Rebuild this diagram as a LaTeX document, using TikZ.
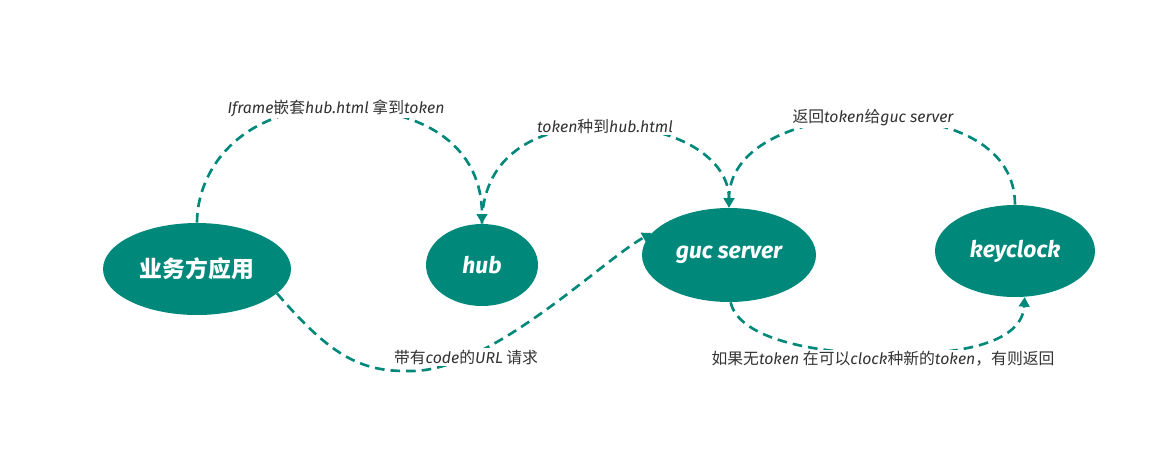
\documentclass[tikz,border=0pt]{standalone}
\usepackage{fontspec}
\setmainfont{Noto Sans CJK SC}
\newfontfamily\latinfont{Fira Sans}
\usetikzlibrary{shapes.geometric,arrows.meta}
\definecolor{gucgreen}{RGB}{0,137,123}
\newcommand{\en}[1]{{\latinfont\itshape #1}}

\begin{document}
\begin{tikzpicture}[x=0.02cm, y=-0.02cm,
  app/.style={ellipse, fill=gucgreen, draw=none, text=white, inner sep=0pt,
    font=\fontsize{13}{15}\selectfont\bfseries},
  flow/.style={draw=gucgreen, line width=1.5pt, dash pattern=on 5.5pt off 3.4pt,
    -{Triangle[length=5.5pt,width=6pt,fill=gucgreen]}},
  note/.style={fill=white, inner sep=1pt, text=black!80, font=\fontsize{9}{11}\selectfont}]
\useasboundingbox (0,0) rectangle (1171,468);
\node[app, minimum width=3.76cm, minimum height=1.84cm] (biz) at (197,269) {业务方应用};
\node[app, minimum width=2.24cm, minimum height=1.64cm] (hub) at (482,265) {\en{hub}};
\node[app, minimum width=3.48cm, minimum height=1.88cm] (guc) at (729,255) {\en{guc server}};
\node[app, minimum width=3.2cm, minimum height=1.84cm] (kc) at (1015,251) {\en{keyclock}};
\draw[flow] (biz.north) .. controls (197,170) and (240,108) .. (336,108)
  node[note] {\en{Iframe}嵌套\en{hub.html} 拿到\en{token}}
  .. controls (430,108) and (482,150) .. (hub.north);
\draw[flow] (hub.north) .. controls (482,160) and (530,126) .. (605,126)
  node[note] {\en{token}种到\en{hub.html}}
  .. controls (680,126) and (729,160) .. (guc.north);
\draw[flow] (kc.north) .. controls (1015,150) and (960,118) .. (873,118)
  node[note] {返回\en{token}给\en{guc server}}
  .. controls (790,118) and (729,150) .. (guc.north);
\draw[flow] (biz.-17) .. controls (330,355) and (360,372) .. (410,371)
  .. controls (490,372) and (600,262) .. (guc.164);
\node[note] (lblurl) at (466,357) {带有\en{code}的\en{URL} 请求};
\draw[flow] (guc.-88) .. controls (738,335) and (800,352) .. (880,354)
  .. controls (970,356) and (1022,340) .. (kc.-78);
\node[note] (lblkc) at (883,359) {如果无\en{token} 在可以\en{clock}种新的\en{token}，有则返回};
\end{tikzpicture}
\end{document}
